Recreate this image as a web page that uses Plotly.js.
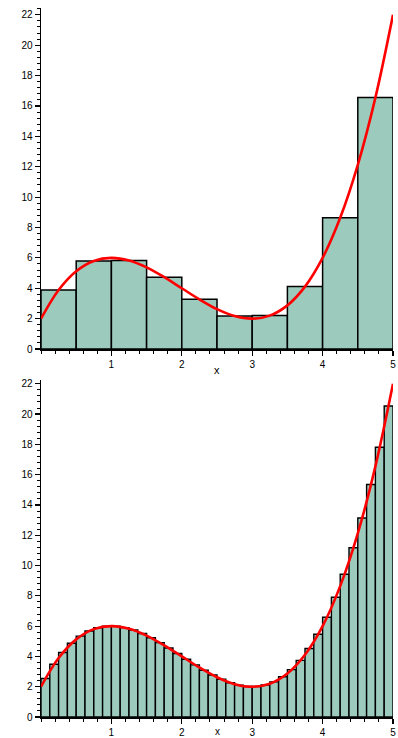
<!DOCTYPE html>
<html>
<head>
<meta charset="utf-8">
<script src="https://cdn.plot.ly/plotly-3.0.1.min.js"></script>
<style>html,body{margin:0;padding:0;background:#fff;}#plot{width:398px;height:738px;}</style>
</head>
<body>
<div id="plot"></div>
<script>
// Top panel: 10 bars, width 0.5 (midpoints)
const topBarX = [0.25, 0.75, 1.25, 1.75, 2.25, 2.75, 3.25, 3.75, 4.25, 4.75];
const topBarY = [3.89, 5.80, 5.83, 4.73, 3.27, 2.17, 2.20, 4.11, 8.64, 16.55];

// Bottom panel: 40 bars, width 0.125 (midpoints)
const botBarX = [0.0625,0.1875,0.3125,0.4375,0.5625,0.6875,0.8125,0.9375,
  1.0625,1.1875,1.3125,1.4375,1.5625,1.6875,1.8125,1.9375,
  2.0625,2.1875,2.3125,2.4375,2.5625,2.6875,2.8125,2.9375,
  3.0625,3.1875,3.3125,3.4375,3.5625,3.6875,3.8125,3.9375,
  4.0625,4.1875,4.3125,4.4375,4.5625,4.6875,4.8125,4.9375];
const botBarY = [2.54,3.48,4.26,4.87,5.34,5.68,5.89,5.99,
  5.99,5.90,5.74,5.51,5.23,4.91,4.56,4.19,
  3.81,3.44,3.09,2.77,2.49,2.26,2.10,2.01,
  2.01,2.11,2.32,2.66,3.13,3.74,4.52,5.46,
  6.59,7.91,9.43,11.17,13.14,15.35,17.81,20.53];

// Red curve points
const curveX = [0,0.25,0.5,0.75,1,1.25,1.5,1.75,2,2.25,2.5,2.75,3,3.25,3.5,3.75,4,4.25,4.5,4.75,5];
const curveY = [2,3.89,5.125,5.80,6,5.83,5.375,4.73,4,3.27,2.625,2.17,2,2.20,2.875,4.11,6,8.64,12.125,16.55,22];

const xTickVals = [1,2,3,4,5];
const yTickVals = [0,2,4,6,8,10,12,14,16,18,20,22];

const barColor = '#9ccbbd';
const font = {family: 'Liberation Sans, Arial, sans-serif', size: 10, color: '#000'};

const traces = [
  {type:'bar', x: topBarX, y: topBarY, width: 0.5, xaxis:'x', yaxis:'y',
   marker:{color: barColor, line:{color:'#000', width:1.5}}, hoverinfo:'skip'},
  {type:'scatter', mode:'lines', x: curveX, y: curveY, xaxis:'x', yaxis:'y',
   line:{color:'#ff0000', width:2.6, shape:'spline', smoothing:1}, cliponaxis:false},
  {type:'bar', x: botBarX, y: botBarY, width: 0.125, xaxis:'x2', yaxis:'y2',
   marker:{color: barColor, line:{color:'#000', width:1.4}}, hoverinfo:'skip'},
  {type:'scatter', mode:'lines', x: curveX, y: curveY, xaxis:'x2', yaxis:'y2',
   line:{color:'#ff0000', width:2.6, shape:'spline', smoothing:1}, cliponaxis:false}
];

function xAxis(anchor) {
  return {anchor: anchor, range:[0,5], domain:[0,1], showgrid:false, zeroline:false,
    showline:true, linecolor:'#000', linewidth:1.5, ticks:'outside', ticklen:5, tickwidth:1.2,
    tickcolor:'#000', tickvals: xTickVals, ticktext: xTickVals.map(String), tickfont: font,
    minor:{dtick:0.2, tick0:0, ticks:'outside', ticklen:3, tickcolor:'#000', tickwidth:1},
    fixedrange:true};
}
function yAxis(anchor, domain, top) {
  return {anchor: anchor, range:[0,top], domain: domain, showgrid:false, zeroline:false,
    showline:true, linecolor:'#000', linewidth:1.5, ticks:'outside', ticklen:5, tickwidth:1.2,
    tickcolor:'#000', tickvals: yTickVals, ticktext: yTickVals.map(String), tickfont: font,
    minor:{dtick:0.4, tick0:0, ticks:'outside', ticklen:3, tickcolor:'#000', tickwidth:1},
    fixedrange:true};
}

const layout = {
  width: 398, height: 738,
  margin: {l:41, r:5, t:8, b:21},
  paper_bgcolor:'#fff', plot_bgcolor:'#fff',
  showlegend:false, bargap:0,
  xaxis: xAxis('y'),
  yaxis: yAxis('x', [0.519, 1], 22.45),
  xaxis2: xAxis('y2'),
  yaxis2: yAxis('x2', [0, 0.4753], 22.25),
  annotations: [
    {text:'x', xref:'x', yref:'y', x:2.5, y:0, yanchor:'top', yshift:-13, showarrow:false,
     font:{family:'Liberation Sans, Arial, sans-serif', size:11, color:'#000'}},
    {text:'x', xref:'x2', yref:'y2', x:2.5, y:0, yanchor:'top', yshift:-7, showarrow:false,
     font:{family:'Liberation Sans, Arial, sans-serif', size:10, color:'#000'}}
  ]
};

Plotly.newPlot('plot', traces, layout, {displayModeBar:false, staticPlot:true});
</script>
</body>
</html>
